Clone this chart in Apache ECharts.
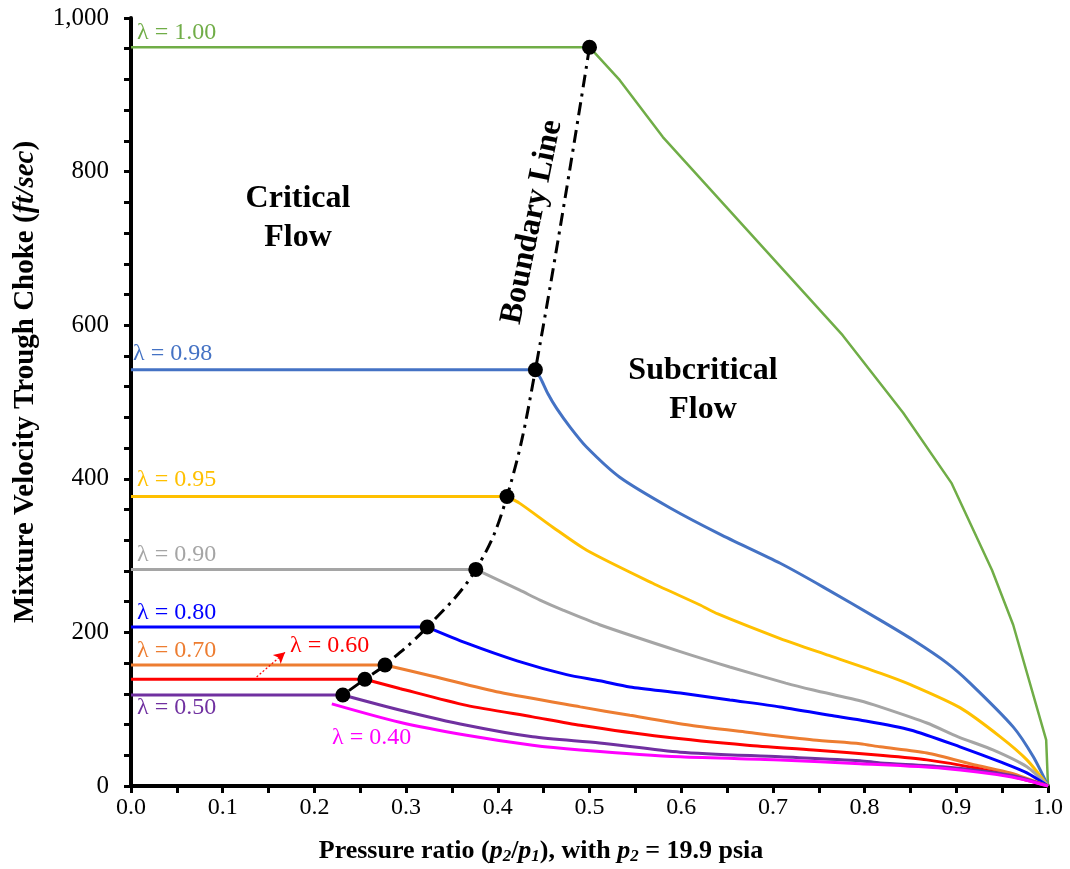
<!DOCTYPE html>
<html>
<head>
<meta charset="utf-8">
<script src="https://cdn.jsdelivr.net/npm/echarts@6/dist/echarts.min.js"></script>
<style>
html,body{margin:0;padding:0;background:#fff;}
#chart{width:1070px;height:869px;}
</style>
</head>
<body>
<div id="chart"></div>
<script>
// ---------- data ----------
const lambdaNames = ['1.00', '0.98', '0.95', '0.90', '0.80', '0.70', '0.60', '0.50', '0.40'];
const colors = ['#70AD47', '#4472C4', '#FFC000', '#A5A5A5', '#0000FF', '#ED7D31', '#FF0000', '#7030A0', '#FF00FF'];
// critical-flow plateau velocity (ft/sec) and pressure ratio at which flow becomes subcritical
const plateau = [962, 542, 377, 282, 207, 157.5, 139, 118.5];
const kneeX = [0.5, 0.441, 0.41, 0.376, 0.323, 0.277, 0.255, 0.231];
// subcritical branches [pressure ratio, velocity]
const sub100 = [[0.533,919],[0.58,845],[0.776,587],[0.842,486],[0.895,394],[0.939,281],[0.962,210],[0.998,60],[1.0,0]];
const sub098 = [[0.447,530],[0.455,510],[0.464,492],[0.479,467],[0.497,441],[0.533,402],[0.588,362],[0.642,328],[0.708,290],[0.755,259],[0.817,216],[0.853,190],[0.89,160],[0.915,134],[0.962,77],[0.984,38],[1.0,0]];
const sub095 = [[0.424,368],[0.46,337],[0.497,307],[0.569,264],[0.62,236],[0.64,224],[0.708,192],[0.761,170],[0.817,147],[0.85,132],[0.904,102],[0.948,64],[0.977,34],[1.0,0]];
const sub090 = [[0.424,255],[0.446,242],[0.471,229],[0.511,210],[0.599,175],[0.653,155],[0.714,134],[0.744,125],[0.795,111],[0.817,103],[0.868,82],[0.902,64],[0.94,47],[0.977,25],[1.0,0]];
const sub080 = [[0.366,186],[0.421,163],[0.475,145],[0.511,137],[0.544,129],[0.599,121],[0.653,112],[0.708,103],[0.762,92],[0.795,86],[0.85,73],[0.904,51],[0.951,30],[0.977,17],[1.0,0]];
const sub070 = [[0.329,143],[0.402,122],[0.49,103],[0.544,92],[0.61,79],[0.672,70],[0.744,60],[0.795,55],[0.817,51],[0.868,43],[0.922,27],[0.959,17],[1.0,0]];
const sub060 = [[0.293,127],[0.366,105],[0.438,90],[0.49,79],[0.58,64],[0.672,53],[0.744,47],[0.817,40],[0.868,34],[0.922,23],[0.969,10],[1.0,0]];
const sub050 = [[0.293,99],[0.366,79],[0.438,64],[0.511,56],[0.599,44],[0.708,38],[0.795,33],[0.817,30],[0.885,25],[0.959,14],[1.0,0]];
const curve040 = [[0.219,107],[0.293,83],[0.366,66],[0.438,53],[0.49,47],[0.599,38],[0.708,34],[0.795,29],[0.885,23],[0.959,12],[1.0,0]];
const subBranches = [sub100, sub098, sub095, sub090, sub080, sub070, sub060, sub050];
const arrow060 = [[0.137,142],[0.168,174]];
const xTicks = ['0.0','0.1','0.2','0.3','0.4','0.5','0.6','0.7','0.8','0.9','1.0'];

// ---------- chart ----------
const SERIF = '"Liberation Serif", "Times New Roman", serif';
const chart = echarts.init(document.getElementById('chart'), null, {renderer: 'canvas'});
const series = [];
for (let i = 0; i < plateau.length; i++) {
  // flat critical-flow part
  series.push({
    type: 'line', data: [[0, plateau[i]], [kneeX[i], plateau[i]]],
    symbol: 'none', lineStyle: {color: colors[i], width: i === 0 ? 2.5 : 3}, z: 2, silent: true
  });
  const s = {
    type: 'line', data: [[kneeX[i], plateau[i]]].concat(subBranches[i]),
    symbol: 'none', smooth: i === 0 ? false : 0.25,
    lineStyle: {color: colors[i], width: i === 0 ? 2.5 : 3}, z: 2, silent: true
  };
  if (i === 6) {
    s.markLine = {
      silent: true, symbol: ['none', 'arrow'], symbolSize: [9, 11],
      label: {show: false},
      lineStyle: {type: [2, 2], color: '#FF0000', width: 1.2},
      data: [[{coord: arrow060[0]}, {coord: arrow060[1]}]]
    };
  }
  series.push(s);
}
series.push({
  type: 'line', data: curve040, symbol: 'none', smooth: 0.25,
  lineStyle: {color: colors[8], width: 3}, z: 2, silent: true
});
// boundary line
series.push({
  type: 'line', data: kneeX.map((x, i) => [x, plateau[i]]),
  smooth: 0.4, symbol: 'circle', symbolSize: 15, showSymbol: true,
  itemStyle: {color: '#000'},
  lineStyle: {color: '#000', width: 3, type: [13, 6, 3, 6]}, z: 5, silent: true
});

const lamLabels = [
  {t: 0, x: 137, y: 33}, {t: 1, x: 133, y: 354}, {t: 2, x: 137, y: 480},
  {t: 3, x: 137, y: 555}, {t: 4, x: 137, y: 613}, {t: 5, x: 137, y: 651},
  {t: 6, x: 290, y: 646}, {t: 7, x: 137, y: 708}, {t: 8, x: 332, y: 738}
];
const graphics = lamLabels.map(l => ({
  type: 'text', x: l.x, y: l.y, z: 10, silent: true,
  style: {text: 'λ = ' + lambdaNames[l.t], fill: colors[l.t], fontSize: 24, fontFamily: SERIF,
          align: 'left', verticalAlign: 'middle'}
}));
const boldTxt = (text, x, y, rot) => ({
  type: 'text', x: x, y: y, rotation: rot || 0, z: 10, silent: true,
  style: {text: text, fill: '#000', fontSize: 32, fontWeight: 'bold', fontFamily: SERIF,
          align: 'center', verticalAlign: 'middle', lineHeight: 39}
});
graphics.push(boldTxt('Critical\nFlow', 298, 218));
graphics.push(boldTxt('Subcritical\nFlow', 703, 390));
graphics.push(boldTxt('Boundary Line', 532, 222, 78.5 * Math.PI / 180));
// y axis title
graphics.push({
  type: 'text', x: 26, y: 382, rotation: Math.PI / 2, z: 10, silent: true,
  style: {
    text: '{n|Mixture Velocity Trough Choke (}{i|ft/sec}{n|)}',
    align: 'center', verticalAlign: 'middle',
    rich: {
      n: {fontSize: 29, fontWeight: 'bold', fontFamily: SERIF, fill: '#000'},
      i: {fontSize: 29, fontWeight: 'bold', fontStyle: 'italic', fontFamily: SERIF, fill: '#000'}
    }
  }
});
// x axis title
graphics.push({
  type: 'text', x: 541, y: 851, z: 10, silent: true,
  style: {
    text: '{n|Pressure ratio (}{i|p}{s|2}{n|/}{i|p}{s|1}{n|), with }{i|p}{s|2}{n| = 19.9 psia}',
    align: 'center', verticalAlign: 'middle',
    rich: {
      n: {fontSize: 26, fontWeight: 'bold', fontFamily: SERIF, fill: '#000'},
      i: {fontSize: 26, fontWeight: 'bold', fontStyle: 'italic', fontFamily: SERIF, fill: '#000'},
      s: {fontSize: 17, fontWeight: 'bold', fontStyle: 'italic', fontFamily: SERIF, fill: '#000', padding: [12, 0, 0, 0]}
    }
  }
});

chart.setOption({
  animation: false,
  backgroundColor: '#fff',
  grid: {left: 131, right: 22, top: 18, bottom: 83, containLabel: false},
  xAxis: {
    type: 'value', min: 0, max: 1, interval: 0.1,
    axisLine: {show: true, onZero: false, lineStyle: {color: '#000', width: 4}},
    axisTick: {show: true, length: 7, lineStyle: {color: '#000', width: 3}},
    minorTick: {show: true, splitNumber: 2, length: 7, lineStyle: {color: '#000', width: 3}},
    splitLine: {show: false},
    axisLabel: {color: '#000', fontSize: 24, fontFamily: SERIF, margin: 10,
                formatter: v => xTicks[Math.round(v * 10)]}
  },
  yAxis: {
    type: 'value', min: 0, max: 1000, interval: 200,
    axisLine: {show: true, lineStyle: {color: '#000', width: 4}},
    axisTick: {show: true, length: 7, lineStyle: {color: '#000', width: 3}},
    minorTick: {show: true, splitNumber: 5, length: 7, lineStyle: {color: '#000', width: 3}},
    splitLine: {show: false},
    axisLabel: {color: '#000', fontSize: 25, fontFamily: SERIF, margin: 22,
                formatter: v => v.toLocaleString('en-US')}
  },
  graphic: graphics,
  series: series
});
</script>
</body>
</html>
